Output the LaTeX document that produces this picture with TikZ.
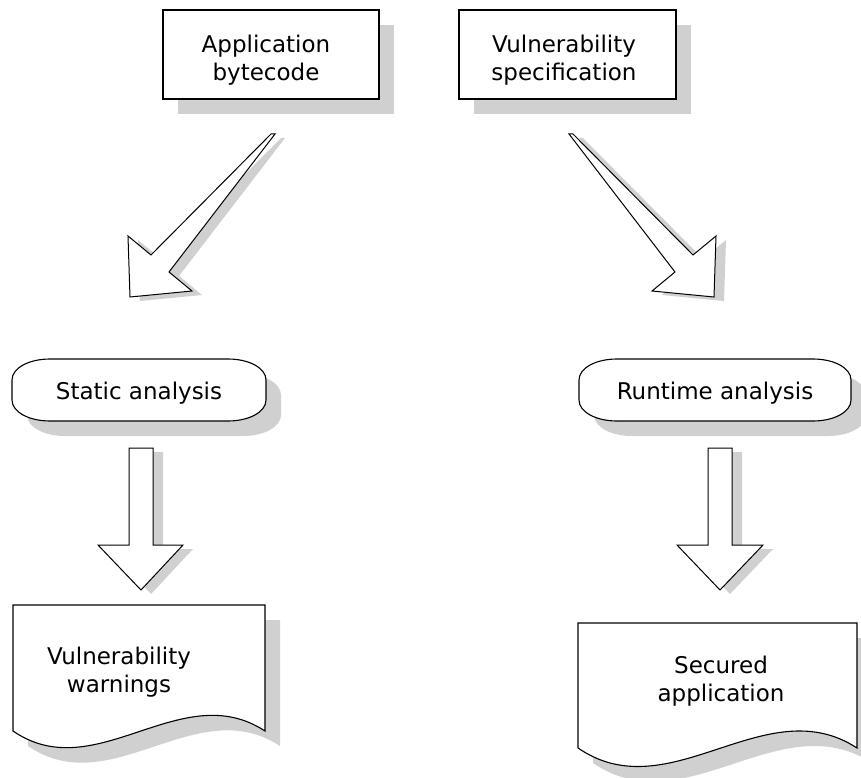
\documentclass[tikz,border=0pt]{standalone}
\usepackage{fontspec}
\setmainfont{DejaVu Sans}
\usepackage{tikz}
\definecolor{shadowgray}{RGB}{208,208,208}

\begin{document}
\begin{tikzpicture}[x=1pt,y=-1pt,
	flowbox/.style={draw=black,fill=white,line width=1.1pt,
		preaction={fill=shadowgray,draw=none,transform canvas={xshift=15pt,yshift=-15pt}}},
	blockarrow/.style={draw=black,fill=white,line width=1pt,line join=miter,
		preaction={fill=shadowgray,draw=none,transform canvas={xshift=10pt,yshift=-4pt}}},
	txt/.style={font=\fontsize{23}{28}\selectfont,align=center,inner sep=0pt}]
	\useasboundingbox (0,0) rectangle (861,778) ;
	% inputs
	\draw [flowbox] (163,10) rectangle (379,99) ;
	\draw [flowbox] (459,10) rectangle (676,99) ;
	\node [txt] (bytecode) at (266,60) {Application\\bytecode} ;
	\node [txt] (spec) at (564,60) {Vulnerability\\specification} ;
	% slanted arrows
	\draw [blockarrow] (271,134) -- (151,255) -- (128,236) -- (130,297) -- (192,291) -- (169,272) -- (275,134) -- cycle ;
	\draw [blockarrow] (569,134) -- (675,272) -- (652,291) -- (714,297) -- (716,236) -- (693,255) -- (573,134) -- cycle ;
	% analyses
	\draw [flowbox] (50,359) -- (228,359) .. controls (249,359) and (266,368) .. (266,380) -- (266,400)
		.. controls (266,412) and (249,421) .. (228,421) -- (50,421) .. controls (29,421) and (12,412) .. (12,400)
		-- (12,380) .. controls (12,368) and (29,359) .. (50,359) -- cycle ;
	\draw [flowbox] (617,359) -- (813,359) .. controls (834,359) and (851,368) .. (851,380) -- (851,400)
		.. controls (851,412) and (834,421) .. (813,421) -- (617,421) .. controls (596,421) and (579,412) .. (579,400)
		-- (579,380) .. controls (579,368) and (596,359) .. (617,359) -- cycle ;
	\node [txt,anchor=base] (static) at (139,399) {Static analysis} ;
	\node [txt,anchor=base] (runtime) at (715,399) {Runtime analysis} ;
	% down arrows
	\draw [blockarrow] (129,448) -- (153,448) -- (153,545) -- (183,545) -- (141,590) -- (98,545) -- (129,545) -- cycle ;
	\draw [blockarrow] (708,448) -- (732,448) -- (732,545) -- (763,545) -- (720,590) -- (677,545) -- (708,545) -- cycle ;
	% outputs
	\draw [flowbox] (13,605) -- (265,605) -- (265,731) .. controls (181,676) and (96,788) .. (13,731) -- cycle ;
	\draw [flowbox] (578,623) -- (857,623) -- (857,748) .. controls (765,688) and (670,811) .. (578,748) -- cycle ;
	\node [txt] (warnings) at (119,672) {Vulnerability\\warnings} ;
	\node [txt] (secured) at (721,681) {Secured\\application} ;
\end{tikzpicture}
\end{document}
